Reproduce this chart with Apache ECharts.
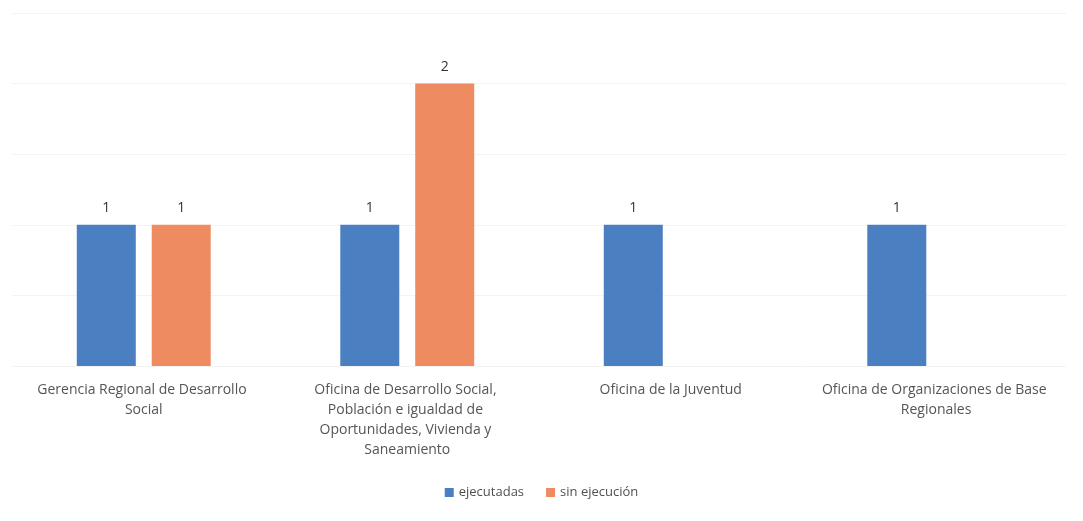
<!DOCTYPE html>
<html>
<head>
<meta charset="utf-8">
<script src="https://cdn.jsdelivr.net/npm/echarts@6/dist/echarts.min.js"></script>
<style>html,body{margin:0;padding:0;background:#fff;}#c{width:1083px;height:521px;}</style>
</head>
<body>
<div id="c"></div>
<script>
const categories = [
  "Gerencia Regional de Desarrollo Social",
  "Oficina de Desarrollo Social, Población e igualdad de Oportunidades, Vivienda y Saneamiento",
  "Oficina de la Juventud",
  "Oficina de Organizaciones de Base Regionales"
];
const ejecutadas = [1, 1, 1, 1];
const sinEjecucion = [1, 2, null, null];
const seriesNames = ["ejecutadas", "sin ejecución"];

const chart = echarts.init(document.getElementById('c'));
const font = "'Open Sans', 'Liberation Sans', sans-serif";
const labelCfg = { show: true, position: 'top', distance: 10, color: '#333', fontSize: 14, fontFamily: font };
chart.setOption({
  animation: false,
  backgroundColor: '#fff',
  grid: { left: 12, right: 17, top: 13, bottom: 155 },
  legend: {
    bottom: 17, left: 'center',
    itemWidth: 9, itemHeight: 9, itemGap: 22,
    icon: 'rect',
    textStyle: { color: '#505050', fontSize: 13, fontFamily: font },
    data: seriesNames
  },
  xAxis: {
    type: 'category',
    data: categories,
    axisLine: { show: true, lineStyle: { color: '#f2f2f2' } },
    axisTick: { show: false },
    axisLabel: {
      interval: 0, margin: 14, width: 225, overflow: 'break',
      color: '#555', fontSize: 14, lineHeight: 20, fontFamily: font
    }
  },
  yAxis: {
    type: 'value', min: 0, max: 2.5, interval: 0.5,
    axisLabel: { show: false },
    axisLine: { show: false },
    axisTick: { show: false },
    splitLine: { lineStyle: { color: '#f3f3f3' } }
  },
  series: [
    { name: seriesNames[0], type: 'bar', data: ejecutadas, barWidth: 59, barGap: '27%',
      itemStyle: { color: '#4a7fc1' }, label: labelCfg },
    { name: seriesNames[1], type: 'bar', data: sinEjecucion, barWidth: 59, barGap: '27%',
      itemStyle: { color: '#ef8b60' }, label: labelCfg }
  ]
});
</script>
</body>
</html>
